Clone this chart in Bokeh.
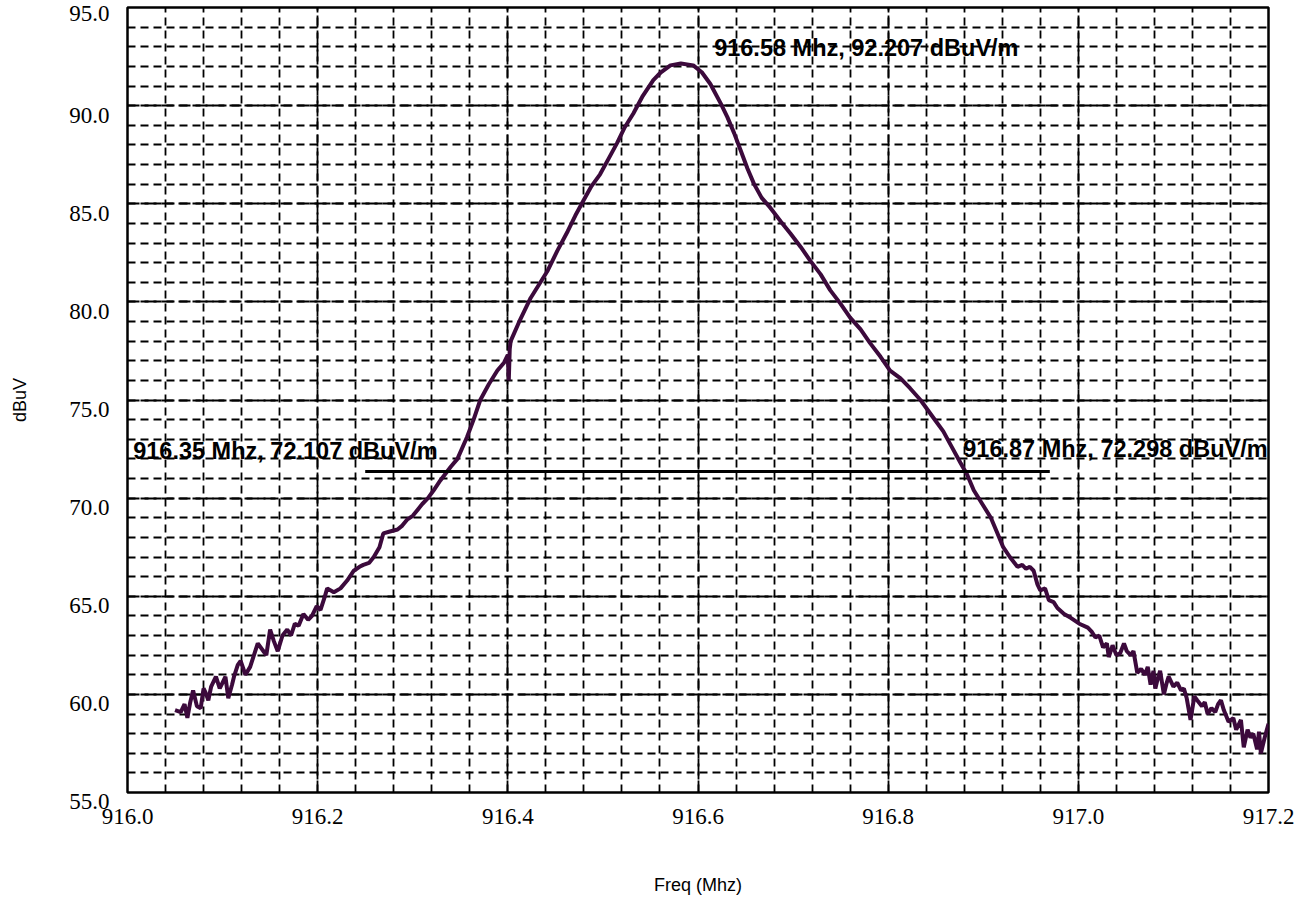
from bokeh.plotting import figure
from bokeh.models import Range1d, SingleIntervalTicker, PrintfTickFormatter, LabelSet, ColumnDataSource
from bokeh.core.properties import value
from bokeh.embed import file_html
from bokeh.resources import INLINE

freq = [916.050, 916.056, 916.060, 916.063, 916.066, 916.069, 916.073, 916.077, 916.080, 916.082,
        916.085, 916.088, 916.093, 916.097, 916.100, 916.103, 916.106, 916.110, 916.112, 916.116,
        916.119, 916.124, 916.129, 916.133, 916.137, 916.143, 916.146, 916.150, 916.154, 916.158,
        916.163, 916.168, 916.172, 916.176, 916.180, 916.185, 916.190, 916.194, 916.199, 916.203,
        916.207, 916.210, 916.217, 916.224, 916.231, 916.238, 916.244, 916.248, 916.254, 916.259,
        916.265, 916.269, 916.276, 916.284, 916.289, 916.294, 916.300, 916.305, 916.310, 916.316,
        916.322, 916.329, 916.340, 916.347, 916.357, 916.364, 916.371, 916.380, 916.389, 916.396,
        916.400, 916.401, 916.402, 916.403, 916.413, 916.424, 916.433, 916.442, 916.452, 916.463,
        916.471, 916.480, 916.488, 916.497, 916.506, 916.515, 916.523, 916.532, 916.542, 916.553,
        916.561, 916.571, 916.582, 916.595, 916.604, 916.613, 916.624, 916.631, 916.638, 916.645,
        916.652, 916.659, 916.667, 916.676, 916.687, 916.697, 916.708, 916.718, 916.729, 916.739,
        916.750, 916.760, 916.771, 916.781, 916.792, 916.802, 916.813, 916.823, 916.834, 916.846,
        916.858, 916.867, 916.876, 916.883, 916.890, 916.899, 916.908, 916.915, 916.921, 916.928,
        916.936, 916.941, 916.945, 916.949, 916.953, 916.957, 916.960, 916.965, 916.969, 916.974,
        916.978, 916.985, 916.992, 917.001, 917.010, 917.014, 917.018, 917.022, 917.026, 917.030,
        917.032, 917.036, 917.040, 917.044, 917.048, 917.051, 917.055, 917.058, 917.062, 917.066,
        917.070, 917.073, 917.076, 917.079, 917.081, 917.083, 917.086, 917.090, 917.093, 917.095,
        917.100, 917.104, 917.108, 917.111, 917.114, 917.118, 917.122, 917.125, 917.130, 917.133,
        917.136, 917.140, 917.144, 917.147, 917.150, 917.153, 917.158, 917.163, 917.166, 917.168,
        917.171, 917.174, 917.178, 917.181, 917.184, 917.188, 917.190, 917.192, 917.196, 917.200]
level = [59.2, 59.1, 59.5, 58.8, 59.6, 60.2, 59.4, 59.3, 60.3, 60.1,
         59.7, 60.4, 60.9, 60.3, 60.6, 60.9, 59.8, 60.5, 60.9, 61.5,
         61.7, 61.0, 61.4, 62.0, 62.6, 62.2, 62.0, 63.3, 62.7, 62.2,
         63.0, 63.3, 63.0, 63.6, 63.5, 64.1, 63.8, 64.0, 64.5, 64.3,
         64.9, 65.4, 65.2, 65.4, 65.8, 66.3, 66.5, 66.6, 66.7, 67.0,
         67.5, 68.2, 68.3, 68.4, 68.6, 68.9, 69.1, 69.4, 69.7, 70.0,
         70.4, 70.9, 71.6, 72.0, 73.1, 74.0, 75.0, 75.8, 76.5, 76.9,
         77.3, 76.0, 77.6, 78.0, 79.1, 80.2, 80.9, 81.6, 82.6, 83.6,
         84.4, 85.2, 85.9, 86.5, 87.3, 88.1, 88.9, 89.6, 90.5, 91.3,
         91.7, 92.05, 92.15, 92.05, 91.7, 91.1, 90.1, 89.4, 88.6, 87.7,
         86.8, 86.0, 85.3, 84.8, 84.1, 83.5, 82.8, 82.1, 81.4, 80.6,
         79.9, 79.2, 78.6, 77.9, 77.2, 76.5, 76.1, 75.6, 75.0, 74.2,
         73.4, 72.6, 71.8, 71.2, 70.4, 69.7, 69.0, 68.2, 67.5, 67.0,
         66.5, 66.6, 66.4, 66.5, 66.3, 65.6, 65.3, 65.4, 64.8, 64.7,
         64.4, 64.1, 63.9, 63.6, 63.4, 63.2, 62.9, 63.0, 62.4, 62.6,
         61.9, 62.5, 62.0, 62.1, 62.6, 62.2, 62.0, 62.2, 61.1, 61.3,
         61.0, 61.4, 60.5, 61.2, 60.3, 60.7, 61.2, 60.0, 60.6, 60.9,
         60.4, 60.6, 60.2, 60.3, 59.8, 58.7, 59.9, 59.7, 59.4, 59.6,
         59.0, 59.3, 59.1, 59.5, 59.7, 59.2, 58.6, 58.8, 58.2, 58.4,
         58.7, 57.3, 58.2, 57.8, 58.0, 57.2, 58.1, 57.0, 57.8, 58.5]

marker_x = [916.25, 916.97]
marker_y = [71.36, 71.36]

ann_x = [916.617, 916.006, 916.879]
ann_y = [92.94, 72.40, 72.48]
ann_text = ["916.58 Mhz, 92.207 dBuV/m", "916.35 Mhz, 72.107 dBuV/m", "916.87 Mhz, 72.298 dBuV/m"]

SERIF = "Liberation Serif"
SANS = "Liberation Sans"

p = figure(width=1296, height=900, output_backend="svg", toolbar_location=None,
           x_range=Range1d(916.0, 917.2), y_range=Range1d(55.0, 95.0),
           min_border_left=127, min_border_right=28, min_border_top=7, min_border_bottom=108,
           background_fill_color="white", border_fill_color="white")

p.outline_line_color = "black"
p.outline_line_width = 2.5

p.xaxis.ticker = SingleIntervalTicker(interval=0.2, num_minor_ticks=5)
p.yaxis.ticker = SingleIntervalTicker(interval=5, num_minor_ticks=5)
p.xgrid.ticker = p.xaxis.ticker
p.ygrid.ticker = p.yaxis.ticker
p.xaxis.formatter = PrintfTickFormatter(format="%.1f")
# the leading empty line drops each y label just below its grid line, as in the reference
p.yaxis.formatter = PrintfTickFormatter(format="\n%.1f")
# the top label sits against the canvas edge, a single line keeps it near its grid line
p.yaxis.major_label_overrides = {95: "95.0"}

for ax in (p.xaxis, p.yaxis):
    ax.axis_line_color = None
    ax.major_tick_line_color = None
    ax.minor_tick_line_color = None
    ax.major_label_text_font = SERIF
    ax.major_label_text_font_size = "23px"
    ax.major_label_text_color = "black"
    ax.axis_label_text_font = SANS
    ax.axis_label_text_font_size = "18px"
    ax.axis_label_text_font_style = "normal"
    ax.axis_label_text_color = "black"

p.yaxis.major_label_text_line_height = 0.75

p.xaxis.axis_label = "Freq (Mhz)"
p.yaxis.axis_label = "dBuV"
p.xaxis.major_label_standoff = 10
p.yaxis.major_label_standoff = 12
p.xaxis.axis_label_standoff = 48
p.yaxis.axis_label_standoff = 36

for g in (p.xgrid, p.ygrid):
    g.grid_line_color = "black"
    g.grid_line_alpha = 1.0
    g.grid_line_width = 1.8
    g.grid_line_dash = "12 5"
    g.minor_grid_line_color = "black"
    g.minor_grid_line_alpha = 1.0
    g.minor_grid_line_width = 1.8
    g.minor_grid_line_dash = "8 5"

p.line(freq, level, line_color="#3c0a3c", line_width=4)
p.line(marker_x, marker_y, line_color="black", line_width=3)

asrc = ColumnDataSource(dict(x=ann_x, y=ann_y, text=ann_text))
p.add_layout(LabelSet(x="x", y="y", text="text", source=asrc,
                      text_font=value(SANS), text_font_style="bold", text_font_size="23.5px",
                      text_color="black", text_align="left", text_baseline="middle"))

open("out.html", "w").write(file_html(p, INLINE))
